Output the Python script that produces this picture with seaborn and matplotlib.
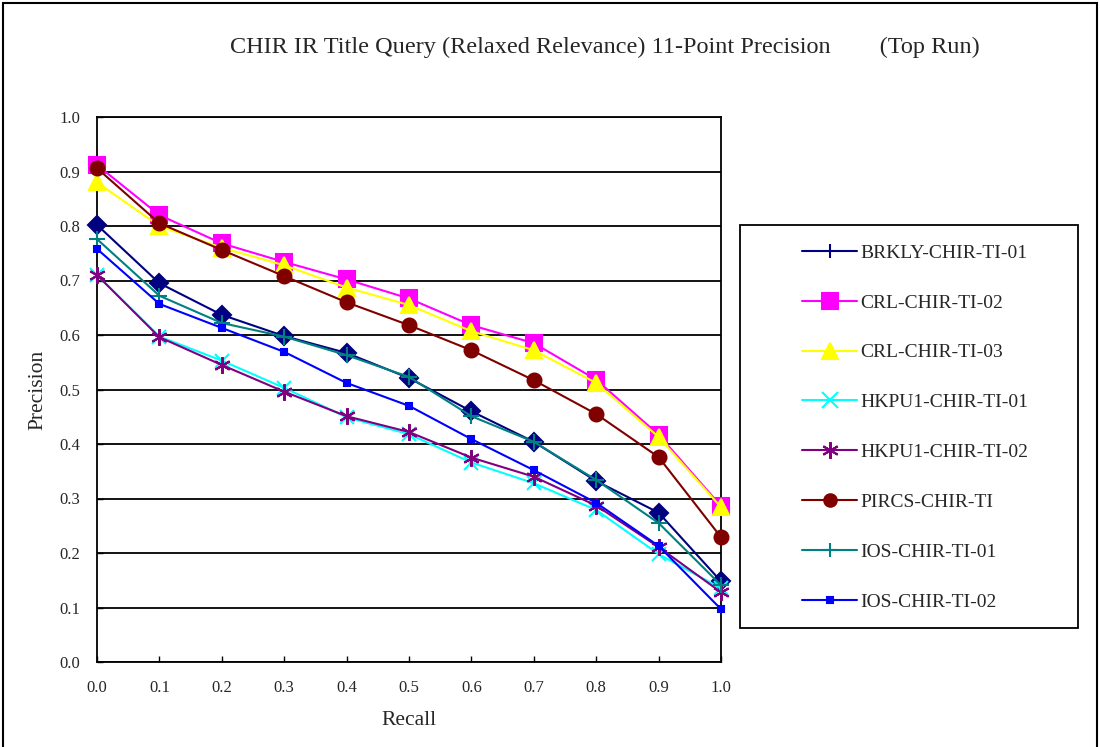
import matplotlib
matplotlib.use("Agg")
import matplotlib.pyplot as plt
import seaborn as sns
import pandas as pd
from matplotlib.lines import Line2D
from matplotlib.patches import Rectangle

recall = [0.0, 0.1, 0.2, 0.3, 0.4, 0.5, 0.6, 0.7, 0.8, 0.9, 1.0]

brkly_01 = [0.802, 0.695, 0.637, 0.598, 0.567, 0.521, 0.460, 0.404, 0.332, 0.274, 0.148]
crl_02   = [0.912, 0.820, 0.768, 0.734, 0.702, 0.667, 0.618, 0.585, 0.518, 0.417, 0.286]
crl_03   = [0.880, 0.800, 0.760, 0.728, 0.687, 0.655, 0.607, 0.572, 0.512, 0.413, 0.284]
hkpu_01  = [0.710, 0.597, 0.553, 0.503, 0.449, 0.418, 0.366, 0.328, 0.279, 0.198, 0.135]
hkpu_02  = [0.710, 0.596, 0.545, 0.496, 0.451, 0.422, 0.375, 0.340, 0.287, 0.211, 0.128]
pircs    = [0.906, 0.805, 0.756, 0.708, 0.660, 0.618, 0.572, 0.517, 0.455, 0.376, 0.229]
ios_01   = [0.776, 0.672, 0.622, 0.597, 0.563, 0.523, 0.451, 0.404, 0.334, 0.255, 0.141]
ios_02   = [0.758, 0.657, 0.613, 0.569, 0.512, 0.470, 0.409, 0.352, 0.292, 0.213, 0.097]

names = ["BRKLY-CHIR-TI-01", "CRL-CHIR-TI-02", "CRL-CHIR-TI-03", "HKPU1-CHIR-TI-01",
         "HKPU1-CHIR-TI-02", "PIRCS-CHIR-TI", "IOS-CHIR-TI-01", "IOS-CHIR-TI-02"]
series = [brkly_01, crl_02, crl_03, hkpu_01, hkpu_02, pircs, ios_01, ios_02]

colors = ["#000080", "#FF00FF", "#FFFF00", "#00FFFF", "#800080", "#800000", "#008080", "#0000FF"]
markers = ["D", "s", "^", "x", (6, 2, 0), "o", "+", "s"]
msizes = [9, 11, 11, 10, 12, 10, 11, 5]
legend_markers = ["|", "s", "^", "x", (6, 2, 0), "o", "+", "s"]
legend_msizes = [10, 11, 11, 12, 12, 9, 10, 5]

sns.set_theme(style="white")
plt.rcParams["font.family"] = ["Liberation Serif", "DejaVu Serif"]

fig = plt.figure(figsize=(11, 7.47), dpi=100)
ax = fig.add_axes([97/1100, 1 - 662/747, (721-97)/1100, (662-117)/747])

rows = []
for n, s in zip(names, series):
    for r, p in zip(recall, s):
        rows.append({"Recall": r, "Precision": p, "Run": n})
df = pd.DataFrame(rows)

for i, n in enumerate(names):
    sub = df[df["Run"] == n]
    sns.lineplot(data=sub, x="Recall", y="Precision", ax=ax, color=colors[i],
                 marker=markers[i], markersize=msizes[i], markeredgecolor=colors[i],
                 markerfacecolor=colors[i], markeredgewidth=1.5, linewidth=1.5,
                 legend=False, zorder=3 + i, clip_on=False)

ax.set_xlim(0, 1.0)
ax.set_ylim(0, 1.0)
ax.set_xticks(recall)
ax.set_xticklabels([f"{v:.1f}" for v in recall], fontsize=12)
yt = [i / 10 for i in range(11)]
ax.set_yticks(yt)
ax.set_yticklabels([f"{v:.1f}" for v in yt], fontsize=12)
ax.yaxis.grid(True, color="black", linewidth=1.3)
ax.xaxis.grid(False)
ax.set_axisbelow(True)
for sp in ax.spines.values():
    sp.set_color("black")
    sp.set_linewidth(1.3)
ax.tick_params(axis="both", direction="in", length=4, width=1, color="black",
               bottom=True, left=True)
ax.tick_params(axis="x", pad=13)
ax.tick_params(axis="y", pad=12)
ax.set_xlabel("Recall", fontsize=15.5, labelpad=11)
ax.set_ylabel("Precision", fontsize=15.5, labelpad=9)
ax.set_facecolor("white")

fig.text(605/1100, 1 - 47/747,
         "CHIR IR Title Query (Relaxed Relevance) 11-Point Precision        (Top Run)",
         ha="center", va="center", fontsize=17.5)

handles = [Line2D([0], [0], color=colors[i], marker=legend_markers[i], markersize=legend_msizes[i],
                  markerfacecolor=colors[i], markeredgecolor=colors[i], markeredgewidth=1.5,
                  linewidth=1.5) for i in range(len(names))]
leg = fig.legend(handles, names, loc="upper left",
                 bbox_to_anchor=(802/1100, 1 - 244/747),
                 fontsize=14, frameon=False,
                 handlelength=2.85, handletextpad=0.15, labelspacing=1.66,
                 borderpad=0, borderaxespad=0)

fig.patches.append(Rectangle((740/1100, 1 - 628/747), (1078-740)/1100, (628-225)/747,
                             transform=fig.transFigure, fill=False,
                             edgecolor="black", linewidth=1.3))

fig.patches.append(Rectangle((3/1100, -0.01), 1094/1100, 1 - 3/747 + 0.01,
                             transform=fig.transFigure, fill=False,
                             edgecolor="black", linewidth=1.5))

fig.savefig("out.png", dpi=100, facecolor="white")
